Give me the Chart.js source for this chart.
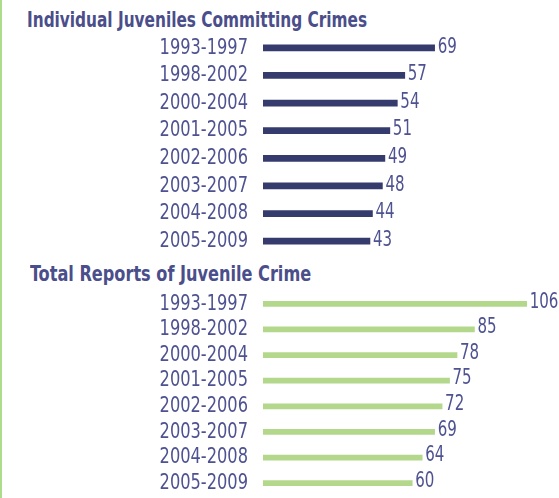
<!DOCTYPE html>
<html>
<head>
<meta charset="utf-8">
<script src="https://cdn.jsdelivr.net/npm/chart.js@4"></script>
<style>
  body { margin: 0; background: #fff; }
  #page { position: relative; width: 559px; height: 498px; overflow: hidden; border-left: 2px solid #aedb8c; box-sizing: border-box; }
  .title { position: absolute; font-family: 'DejaVu Sans Condensed', 'DejaVu Sans', sans-serif; font-weight: bold; font-size: 22px; color: #4a4e8a; white-space: nowrap; transform-origin: left top; }
  .box { position: absolute; left: -2px; width: 559px; }
</style>
</head>
<body>
<div id="page">
  <div class="title" style="left:25px; top:7px; transform: scaleX(0.775);">Individual Juveniles Committing Crimes</div>
  <div class="box" style="top:34px; height:221px;"><canvas id="chartOne"></canvas></div>
  <div class="title" style="left:28px; top:261px; transform: scaleX(0.815);">Total Reports of Juvenile Crime</div>
  <div class="box" style="top:291px; height:205px;"><canvas id="chartTwo"></canvas></div>
</div>
<script>
'use strict'

//++++++++++++++ Data ++++++++++++++//
let periods = ['1993-1997', '1998-2002', '2000-2004', '2001-2005', '2002-2006', '2003-2007', '2004-2008', '2005-2009'];
let juvenileValues = [69, 57, 54, 51, 49, 48, 44, 43];
let reportValues = [106, 85, 78, 75, 72, 69, 64, 60];

let labelFont = "'DejaVu Sans Condensed', 'DejaVu Sans', sans-serif";
let textColor = '#4e5290';

// draws a squeezed text so it looks like a condensed face
function narrowText(ctx, text, x, y, squeeze, align) {
  ctx.save();
  ctx.translate(x, y);
  ctx.scale(squeeze, 1);
  ctx.textAlign = align;
  ctx.fillText(text, 0, 0);
  ctx.restore();
}

// period labels on the left and values past the end of each bar
let rowText = {
  id: 'rowText',
  afterDatasetsDraw(chart) {
    let ctx = chart.ctx;
    let yScale = chart.scales.y;
    let shift = chart.options.plugins.rowText.shift || 0;
    ctx.save();
    ctx.font = '22px ' + labelFont;
    ctx.fillStyle = textColor;
    ctx.textBaseline = 'middle';
    chart.data.labels.forEach((label, i) => {
      narrowText(ctx, label, 248, yScale.getPixelForTick(i), 0.82, 'right');
    });
    chart.getDatasetMeta(0).data.forEach((bar, i) => {
      narrowText(ctx, String(chart.data.datasets[0].data[i]), bar.x + 3, bar.y + shift, 0.76, 'left');
    });
    ctx.restore();
  }
};

function makeChart(canvasId, values, color, thickness, shift) {
  let ctx = document.getElementById(canvasId).getContext('2d');
  return new Chart(ctx, {
    type: 'bar',
    data: {
      labels: periods,
      datasets: [{
        data: values,
        backgroundColor: color,
        barThickness: thickness,
        borderWidth: 0
      }]
    },
    options: {
      indexAxis: 'y',
      responsive: true,
      maintainAspectRatio: false,
      animation: false,
      layout: { padding: { left: 263, right: 0, top: 0, bottom: 0 } },
      plugins: {
        legend: { display: false },
        tooltip: { enabled: false },
        rowText: { shift: shift }
      },
      scales: {
        x: { min: 0, max: 119, display: false },
        y: { display: false }
      }
    },
    plugins: [rowText]
  });
}

makeChart('chartOne', juvenileValues, '#363b6e', 6, -1);
makeChart('chartTwo', reportValues, '#b3d88b', 5, -2);
</script>
</body>
</html>
